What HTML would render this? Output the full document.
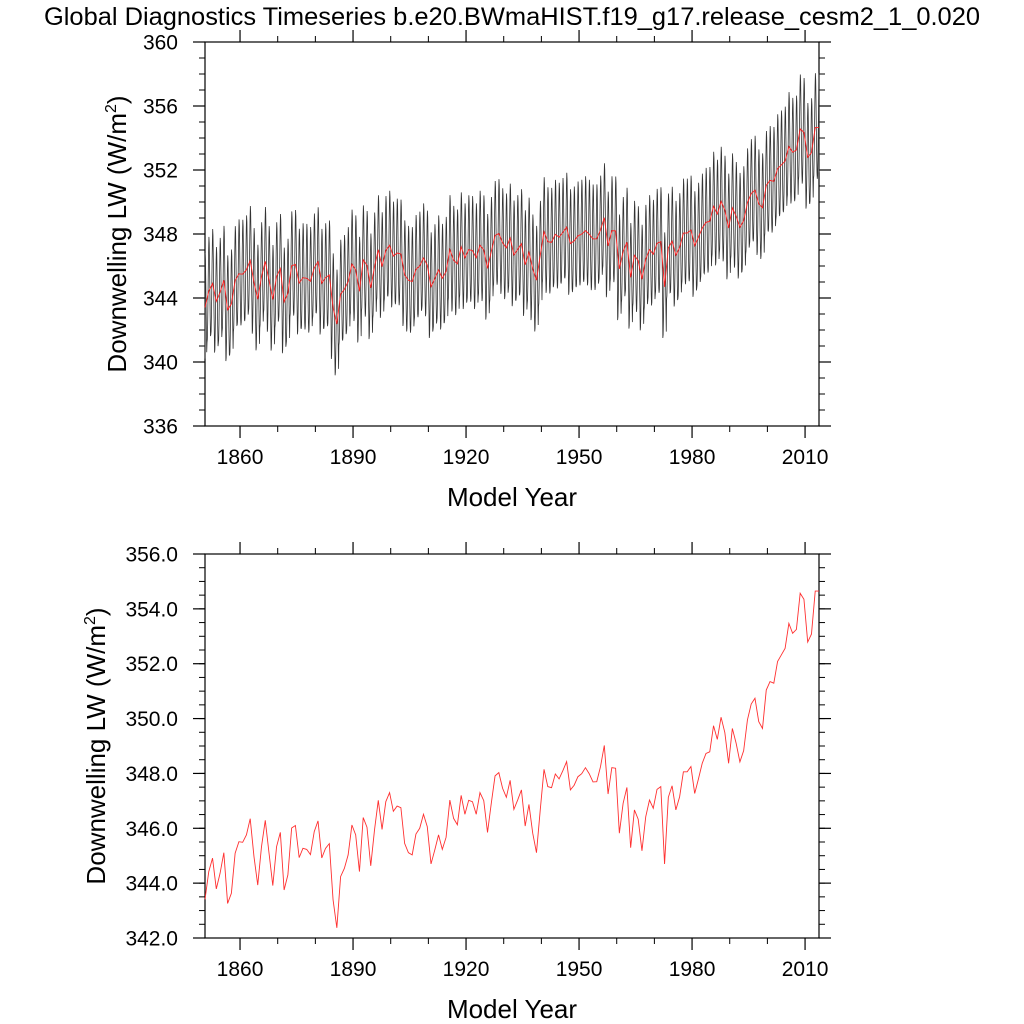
<!DOCTYPE html>
<html><head><meta charset="utf-8"><style>
html,body{margin:0;padding:0;background:#fff;}
svg{display:block;font-family:"Liberation Sans",Arial,sans-serif;}
</style></head><body>
<svg id="chart" width="1024" height="1024" viewBox="0 0 1024 1024" xmlns="http://www.w3.org/2000/svg">
<text x="512" y="25" font-size="25" text-anchor="middle" textLength="936" lengthAdjust="spacingAndGlyphs">Global Diagnostics Timeseries b.e20.BWmaHIST.f19_g17.release_cesm2_1_0.020</text>
<g id="top"></g>
<g id="bot"></g>
</svg>
<script>
const startYear = 1850.7;
const annualMean = [343.41,344.42,344.91,343.79,344.36,345.11,343.26,343.63,345.09,345.51,345.49,345.76,346.35,344.97,343.93,345.33,346.29,345.09,343.91,345.33,345.85,343.75,344.30,346.01,346.10,344.93,345.27,345.23,345.04,345.88,346.27,344.92,345.27,345.44,343.39,342.37,344.24,344.54,345.03,346.12,345.76,344.42,346.39,346.04,344.63,345.94,347.02,345.96,346.97,347.30,346.62,346.81,346.75,345.45,345.11,345.03,345.79,346.00,346.51,346.06,344.70,345.21,345.76,345.23,345.67,347.03,346.36,346.13,347.20,346.51,347.02,346.97,346.51,347.30,347.01,345.85,346.91,347.91,348.03,347.46,347.13,347.75,346.69,347.03,347.40,346.08,346.87,345.82,345.11,346.67,348.15,347.52,347.48,347.98,347.80,348.10,348.43,347.40,347.57,347.88,347.99,348.21,347.99,347.69,347.70,348.25,349.02,347.25,348.21,348.19,345.82,346.91,347.49,345.29,346.67,346.33,345.18,346.42,347.03,346.73,347.42,347.52,344.70,347.13,347.55,346.67,347.15,348.06,348.06,348.25,347.27,347.80,348.37,348.73,348.79,349.74,349.24,350.05,349.49,348.37,349.64,349.10,348.42,348.83,349.95,350.53,350.74,349.89,349.64,351.04,351.35,351.29,352.08,352.32,352.56,353.47,353.11,353.25,354.57,354.35,352.79,353.08,354.65,354.65];
const seasonalCycle = [-3.2,-3.0,-2.0,-0.5,1.2,2.6,3.4,3.0,1.6,0.0,-1.6,-2.8];
const xTicks = [1860,1890,1920,1950,1980,2010];
const xMinor = [1870,1880,1900,1910,1930,1940,1960,1970,1990,2000];
const topYTicks = [336,340,344,348,352,356,360];
const botYTicks = [342,344,346,348,350,352,354,356];
const botYLabels = ["342.0","344.0","346.0","348.0","350.0","352.0","354.0","356.0"];

const NS="http://www.w3.org/2000/svg";
const L=205,R=819;
const xMax = startYear + annualMean.length - 1;
function xs(t){return L+(t-startYear)/(xMax-startYear)*(R-L);}
function mk(tag,attrs,parent){const e=document.createElementNS(NS,tag);for(const k in attrs)e.setAttribute(k,attrs[k]);parent.appendChild(e);return e;}

function panel(g,T,B,ymin,ymax,yTicks,yLabels,minorStep,titleX){
  const ys=v=>B-(v-ymin)/(ymax-ymin)*(B-T);
  for(let v=ymin;v<=ymax+1e-9;v+=minorStep){
    const y=ys(v);
    const a=mk('line',{x1:L-6,x2:L,y1:y,y2:y,stroke:'#000','stroke-width':1},g);
    
    
    const b=mk('line',{x1:R,x2:R+6,y1:y,y2:y,stroke:'#000','stroke-width':1},g);
    
    
  }
  yTicks.forEach((v,i)=>{
    const y=ys(v);
    const a=mk('line',{x1:L-12,x2:L,y1:y,y2:y,stroke:'#000','stroke-width':1.2},g);
    
    
    const b=mk('line',{x1:R,x2:R+12,y1:y,y2:y,stroke:'#000','stroke-width':1.2},g);
    
    
    const t=mk('text',{x:178,y:y+7.5,'font-size':21,'text-anchor':'end'},g);
    t.textContent=yLabels[i];
    
    
  });
  xMinor.forEach(v=>{
    const x=xs(v);
    const a=mk('line',{x1:x,x2:x,y1:B,y2:B+6,stroke:'#000','stroke-width':1},g);
    
    
    const b=mk('line',{x1:x,x2:x,y1:T-6,y2:T,stroke:'#000','stroke-width':1},g);
    
    
  });
  xTicks.forEach(v=>{
    const x=xs(v);
    const a=mk('line',{x1:x,x2:x,y1:B,y2:B+12,stroke:'#000','stroke-width':1.2},g);
    
    
    const b=mk('line',{x1:x,x2:x,y1:T-12,y2:T,stroke:'#000','stroke-width':1.2},g);
    
    
    const t=mk('text',{x:x,y:B+38,'font-size':21,'text-anchor':'middle'},g);
    t.textContent=v;
    
    
  });
  const f=mk('rect',{x:L,y:T,width:R-L,height:B-T,fill:'none',stroke:'#000','stroke-width':1.2},g);
  
  
  const xt=mk('text',{x:(L+R)/2,y:B+80,'font-size':26,'text-anchor':'middle'},g);
  xt.textContent='Model Year';
  
  
  const cy=(T+B)/2;
  const yt=mk('text',{x:titleX,y:cy,'font-size':26,'text-anchor':'middle',transform:`rotate(-90 ${titleX} ${cy})`},g);
  yt.innerHTML='Downwelling LW (W/m<tspan font-size="16" dy="-10">2</tspan><tspan dy="10">)</tspan>';
  
  
  return ys;
}

const gt=document.getElementById('top');
const ysT=panel(gt,42,426,336,360,topYTicks,topYTicks.map(String),1,126);
let d='';
annualMean.forEach((v,i)=>{
  seasonalCycle.forEach((s,m)=>{
    const t=startYear+i-0.5+(m+0.5)/12;
    const tt=Math.min(Math.max(t,startYear),xMax);
    const y=Math.min(Math.max(ysT(v+s),42),426);
    d+=(d?'L':'M')+xs(tt).toFixed(2)+' '+y.toFixed(2);
  });
});
const ml=mk('path',{d:d,fill:'none',stroke:'#333','stroke-width':0.8},gt);


let d2='';
annualMean.forEach((v,i)=>{d2+=(i?'L':'M')+xs(startYear+i).toFixed(2)+' '+ysT(v).toFixed(2);});
const al=mk('path',{d:d2,fill:'none',stroke:'#ff2020','stroke-width':0.9},gt);



const gb=document.getElementById('bot');
const ysB=panel(gb,554,938,342,356,botYTicks,botYLabels,0.5,105);
let d3='';
annualMean.forEach((v,i)=>{d3+=(i?'L':'M')+xs(startYear+i).toFixed(2)+' '+ysB(v).toFixed(2);});
const bl=mk('path',{d:d3,fill:'none',stroke:'#ff3030','stroke-width':0.9},gb);


</script>
</body></html>
